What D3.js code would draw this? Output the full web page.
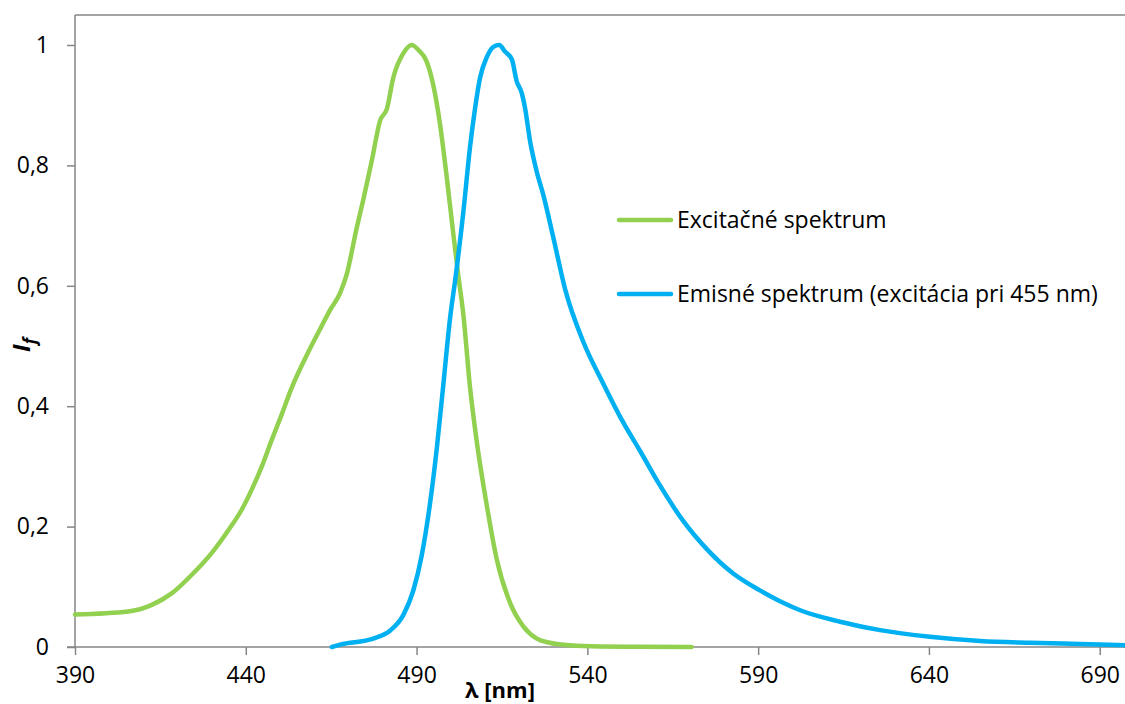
<!DOCTYPE html>
<html><head><meta charset="utf-8">
<script src="https://cdn.jsdelivr.net/npm/d3@7"></script>
<style>
html,body{margin:0;padding:0;background:#fff;}
text{font-family:"Open Sans", "Noto Sans", sans-serif;}
</style></head>
<body><svg id="c" width="1125" height="704"></svg>
<script>
// ---- data ----
const excitationWl = [390,405.6,412.5,418.3,424.2,430.0,434.9,438.8,441.7,444.7,447.6,450.5,453.4,458.3,462.2,464.7,467.6,469.5,472.5,474.4,476.9,479.3,481.3,483.2,486.1,488.6,490.5,493.0,494.9,496.9,498.8,500.8,502.2,503.7,505.6,507.6,510.5,513.5,517.4,521.3,525.2,529,534.9,543.7,555,570.5];
const excitationI  = [0.054,0.059,0.070,0.089,0.120,0.156,0.194,0.228,0.261,0.300,0.344,0.386,0.430,0.490,0.533,0.560,0.588,0.618,0.697,0.743,0.808,0.874,0.894,0.946,0.986,1.000,0.992,0.972,0.933,0.867,0.782,0.684,0.618,0.552,0.434,0.342,0.237,0.145,0.073,0.034,0.014,0.007,0.003,0.001,0.0005,0.0];
const emissionWl = [465.2,467.6,477.3,482.2,486.1,489.0,491.5,493.9,495.9,497.8,499.8,501.5,503.7,505.6,507.1,508.6,510.5,512.5,514.2,515.9,517.9,519.3,520.8,521.8,523.2,525.2,527.1,530.0,533.5,538.8,544.7,550.5,555.4,561.3,568.1,574.9,582.7,590.5,596.4,602.3,614.0,625.7,640.3,655.0,669.6,684.2,697.4];
const emissionI  = [0.0,0.004,0.014,0.027,0.053,0.093,0.152,0.237,0.329,0.434,0.546,0.618,0.723,0.828,0.894,0.946,0.979,0.997,1.000,0.989,0.976,0.940,0.920,0.894,0.841,0.789,0.751,0.681,0.594,0.507,0.437,0.373,0.326,0.268,0.209,0.163,0.122,0.094,0.076,0.061,0.042,0.028,0.017,0.010,0.007,0.005,0.003];
const xTicks = [390,440,490,540,590,640,690];
const yTicks = [0,0.2,0.4,0.6,0.8,1];
const yTickLabels = ["0","0,2","0,4","0,6","0,8","1"];
const seriesNames = ["Excitačné spektrum","Emisné spektrum (excitácia pri 455 nm)"];
const seriesColors = ["#92D050","#00B0F0"];

// ---- chart ----
const svg = d3.select("#c");
const L = 75, R = 1125, T = 15, B = 647;
const x = d3.scaleLinear().domain([390, 697.4]).range([L, R]);
const y = d3.scaleLinear().domain([0, 1]).range([B, 45]);
const axisColor = "#868686";
const FS = 23;

// top border
svg.append("line").attr("x1",L).attr("x2",R).attr("y1",T).attr("y2",T)
  .attr("stroke",axisColor).attr("stroke-width",1.5);

// y axis
const ya = svg.append("g").attr("transform",`translate(${L},0)`)
  .call(d3.axisLeft(y).tickValues(yTicks).tickSize(8).tickPadding(18)
        .tickFormat((d,i)=>yTickLabels[i]));
ya.select(".domain").remove();
svg.append("line").attr("x1",L).attr("x2",L).attr("y1",T).attr("y2",B)
  .attr("stroke",axisColor).attr("stroke-width",1.5);

// x axis
const xa = svg.append("g").attr("transform",`translate(0,${B})`)
  .call(d3.axisBottom(x).tickValues(xTicks).tickSize(8).tickPadding(12).tickFormat(d=>d));
xa.select(".domain").remove();
svg.append("line").attr("x1",L-8).attr("x2",R).attr("y1",B).attr("y2",B)
  .attr("stroke",axisColor).attr("stroke-width",1.5);

svg.selectAll(".tick line").attr("stroke",axisColor).attr("stroke-width",1.5);
svg.selectAll(".tick text").attr("font-size",FS).attr("fill","#000")
  .style("font-family","'Open Sans', sans-serif");

// lines
const line = d3.line().x(d=>x(d[0])).y(d=>y(d[1])).curve(d3.curveMonotoneX);
const exData = excitationWl.map((w,i)=>[w,excitationI[i]]);
const emData = emissionWl.map((w,i)=>[w,emissionI[i]]);
[exData, emData].forEach((d,i)=>{
  svg.append("path").datum(d).attr("d",line).attr("fill","none")
    .attr("stroke",seriesColors[i]).attr("stroke-width",4.5)
    .attr("stroke-linejoin","round").attr("stroke-linecap","round");
});

// legend
const legY = [220, 294];
seriesNames.forEach((n,i)=>{
  svg.append("line").attr("x1",619).attr("x2",671).attr("y1",legY[i]).attr("y2",legY[i])
    .attr("stroke",seriesColors[i]).attr("stroke-width",4.5).attr("stroke-linecap","round");
  svg.append("text").attr("x",677).attr("y",legY[i]+8).attr("font-size",FS)
    .attr("fill","#000").text(n);
});

// axis titles
svg.append("text").attr("x",500).attr("y",698).attr("text-anchor","middle")
  .attr("font-size",22).attr("font-weight","bold").text("λ [nm]");
const yt = svg.append("text").attr("transform","translate(30,345) rotate(-90)")
  .attr("text-anchor","middle").attr("font-size",24).attr("font-weight","bold").attr("font-style","italic");
yt.append("tspan").text("I");
yt.append("tspan").attr("font-size",17).attr("dy",6).text("f");
</script></body></html>
